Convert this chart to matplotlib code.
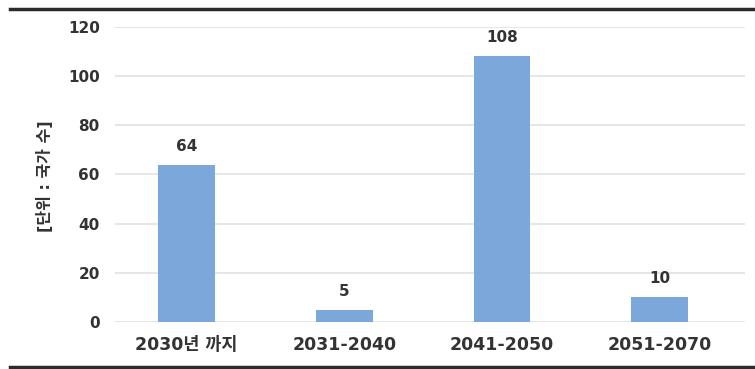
import matplotlib
matplotlib.use("Agg")
from matplotlib import pyplot as plt
from matplotlib.lines import Line2D

plt.rcParams['font.family'] = ['DejaVu Sans', 'Noto Sans CJK KR']

periods = ["2030년 까지", "2031-2040", "2041-2050", "2051-2070"]
countries = [64, 5, 108, 10]
y_ticks = [0, 20, 40, 60, 80, 100, 120]

bar_color = "#7ba7da"
text_color = "#333333"

fig = plt.figure(figsize=(7.55, 3.69), dpi=100)
ax = fig.add_axes([0.1523, 0.1274, 0.8344, 0.7995])

x = range(len(periods))
bars = ax.bar(x, countries, width=0.36, color=bar_color, zorder=3)

for rect, val in zip(bars, countries):
    ax.annotate(str(val), (rect.get_x() + rect.get_width() / 2, val),
                xytext=(0, 8), textcoords="offset points",
                ha="center", va="bottom", fontsize=11,
                fontweight="bold", color=text_color)

ax.set_xlim(-0.453, 3.54)
ax.set_ylim(0, 120)
ax.set_yticks(y_ticks)
ax.set_xticks(list(x))
ax.set_xticklabels(periods)
ax.grid(axis="y", color="#e2e2e2", linewidth=1.2, zorder=0)
for s in ax.spines.values():
    s.set_visible(False)
ax.tick_params(axis="both", length=0, colors=text_color)
ax.tick_params(axis="y", pad=11, labelsize=11)
ax.tick_params(axis="x", pad=10, labelsize=12.5)
for lab in ax.get_xticklabels() + ax.get_yticklabels():
    lab.set_fontweight("bold")

ax.set_ylabel("[단위 : 국가 수]", fontsize=11.5, fontweight="bold",
              color=text_color)
ax.yaxis.set_label_coords(-0.098, 0.495)

# heavy rules framing the chart top and bottom
fig.add_artist(Line2D([0.013, 1.0], [0.975, 0.975], color="#2b2b2b", linewidth=2.5))
fig.add_artist(Line2D([0.013, 1.0], [0.006, 0.006], color="#2b2b2b", linewidth=2.5))

fig.savefig("out.png", dpi=100)
